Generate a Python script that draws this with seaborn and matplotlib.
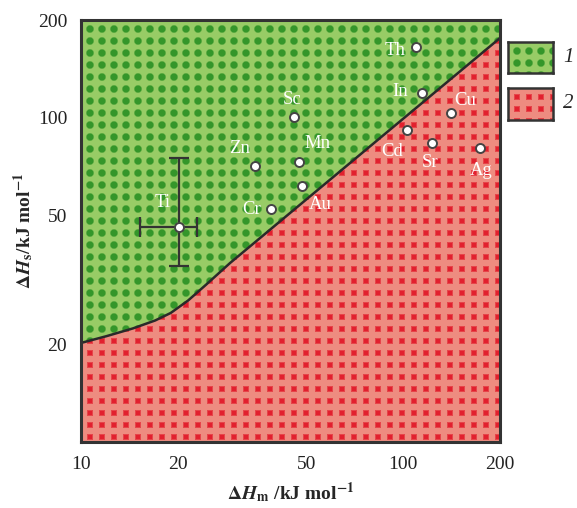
import numpy as np
import matplotlib
matplotlib.use("Agg")
import matplotlib.pyplot as plt
from matplotlib.patches import Polygon
import seaborn as sns

# boundary between region 1 (above) and region 2 (below)
boundary_hm = [10, 12, 14.5, 17, 19, 21.5, 24.5, 29, 200]
boundary_hs = [20.2, 21.2, 22.4, 23.7, 25, 27.3, 30.6, 35.6, 176]

# elements: melting enthalpy vs sublimation enthalpy
elements = ["Th", "In", "Cu", "Cd", "Sr", "Ag", "Sc", "Zn", "Mn", "Au", "Cr", "Ti"]
hm = [110, 114.6, 141, 102.8, 123, 173, 45.8, 34.7, 47.5, 48.5, 38.9, 20.1]
hs = [165, 119.4, 103, 91.5, 83.4, 80.5, 100.4, 70.8, 72.9, 61.5, 52.3, 45.9]
label_dx = [-21, -22, 14, -15, -2, 1, -2, -15, 19, 18, -19, -16]
label_dy = [-3, 1, 13, -21, -19, -22, 18, 18, 19, -18, -1, 25]

# error bar of Ti
ti_hm_range = [15.3, 22.9]
ti_hs_range = [35, 75]

ticks = [10, 20, 50, 100, 200]
legend_labels = ["1", "2"]

green_bg, green_fg = np.array([152, 204, 102]) / 255, np.array([52, 150, 42]) / 255
red_bg, red_fg = np.array([238, 140, 128]) / 255, np.array([226, 32, 46]) / 255


def texture(w, h, bg, fg, shape):
    yy, xx = np.mgrid[0:h, 0:w] + 0.5
    dx = (xx - 3) % 12 - 6
    dy = (yy - 3) % 12 - 6
    if shape == "dot":
        a = np.clip((3.7 - np.sqrt(dx ** 2 + dy ** 2)) / 1.4 + 0.5, 0, 1)
    else:
        a = np.clip((2.7 - np.maximum(abs(dx), abs(dy))) / 1.3 + 0.5, 0, 1)
    return bg * (1 - a[..., None]) + fg * a[..., None]


sns.set_style("white")
plt.rcParams["font.family"] = ["Liberation Serif", "DejaVu Serif"]
plt.rcParams["mathtext.fontset"] = "stix"

W, H = 577, 508
fig = plt.figure(figsize=(W / 100, H / 100), dpi=100)
ax_l, ax_r, ax_t, ax_b = 81, 500, 20, 442
ax = fig.add_axes([ax_l / W, 1 - ax_b / H, (ax_r - ax_l) / W, (ax_b - ax_t) / H])
ax.set_xscale("log")
ax.set_yscale("log")
ax.set_xlim(10, 200)
ax.set_ylim(10, 200)
ax.autoscale(False)

aw, ah = ax_r - ax_l, ax_b - ax_t
ax.imshow(texture(aw, ah, green_bg, green_fg, "dot"), extent=[0, 1, 0, 1],
          transform=ax.transAxes, aspect="auto", interpolation="nearest", zorder=0)
red_img = ax.imshow(texture(aw, ah, red_bg, red_fg, "square"), extent=[0, 1, 0, 1],
                    transform=ax.transAxes, aspect="auto", interpolation="nearest", zorder=1)
lower = Polygon(list(zip(boundary_hm, boundary_hs)) + [(200, 10), (10, 10)],
                closed=True, transform=ax.transData)
red_img.set_clip_path(lower)

sns.lineplot(x=boundary_hm, y=boundary_hs, ax=ax, color="#2a2a2a", lw=1.8,
             sort=False, estimator=None, zorder=3)

# Ti error bars
ax.errorbar(hm[-1], hs[-1],
            xerr=[[hm[-1] - ti_hm_range[0]], [ti_hm_range[1] - hm[-1]]],
            yerr=[[hs[-1] - ti_hs_range[0]], [ti_hs_range[1] - hs[-1]]],
            fmt="none", ecolor="#333333", elinewidth=1.6, capsize=7, capthick=1.6, zorder=4)

sns.scatterplot(x=hm, y=hs, ax=ax, s=42, color="white", edgecolor="#444444",
                linewidth=1.4, zorder=5)
for name, x, y, dx, dy in zip(elements, hm, hs, label_dx, label_dy):
    ax.annotate(name, (x, y), xytext=(dx, dy), textcoords="offset pixels",
                ha="center", va="center", color="white", fontsize=13.5, zorder=6)

ax.set_xticks(ticks, labels=[str(t) for t in ticks])
ax.set_yticks(ticks[1:], labels=[str(t) for t in ticks[1:]])
ax.minorticks_off()
ax.tick_params(length=0, pad=10, labelsize=14, labelcolor="#222222")
for s in ax.spines.values():
    s.set_color("#333333")
    s.set_linewidth(2.2)
    s.set_zorder(7)

ax.set_xlabel(r"$\mathbf{\Delta}\mathbfit{H}_{\mathbf{m}}$ /kJ mol$^{\mathbf{-1}}$",
              fontsize=14, fontweight="bold", labelpad=5)
ax.set_ylabel(r"$\mathbf{\Delta}\mathbfit{H}_{\mathbf{s}}$/kJ mol$^{\mathbf{-1}}$",
              fontsize=14, fontweight="bold", labelpad=1)

# legend boxes
boxes = [(508, 42, 553, 73), (508, 88, 553, 120)]
for (x0, y0, x1, y1), lab, bg, fg, shp in zip(boxes, legend_labels,
                                             [green_bg, red_bg], [green_fg, red_fg],
                                             ["dot", "square"]):
    lax = fig.add_axes([x0 / W, 1 - y1 / H, (x1 - x0) / W, (y1 - y0) / H])
    lax.imshow(texture(x1 - x0, y1 - y0, bg, fg, shp), aspect="auto", interpolation="nearest")
    lax.set_xticks([])
    lax.set_yticks([])
    for s in lax.spines.values():
        s.set_visible(True)
        s.set_color("#333333")
        s.set_linewidth(1.8)
    fig.text((x1 + 15) / W, 1 - (y0 + y1) / 2 / H, lab, fontsize=15, style="italic",
             ha="center", va="center")

fig.savefig("out.png", dpi=100)
